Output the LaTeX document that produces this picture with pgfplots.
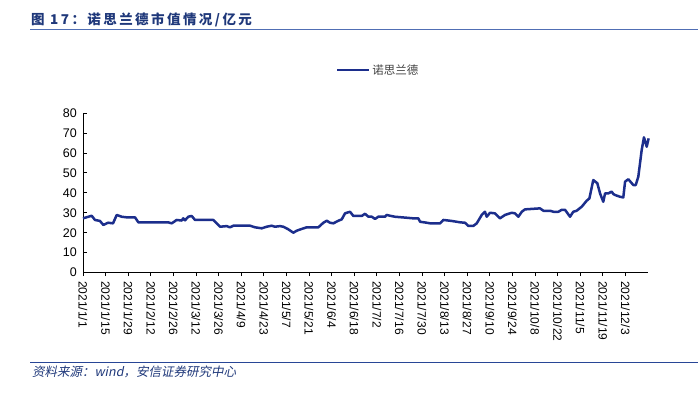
\documentclass[border=0pt]{standalone}
\usepackage{fontspec}
\usepackage{pgfplots}
\pgfplotsset{compat=1.18}
\setmainfont{Liberation Sans}
\newfontfamily\cjk{Noto Sans CJK SC}
\newfontfamily\cjkit[FakeSlant=0.2]{Noto Sans CJK SC}
\definecolor{navy}{RGB}{28,46,140}
\definecolor{ttl}{RGB}{31,56,122}
\definecolor{rule1}{RGB}{80,110,180}
\definecolor{rule2}{RGB}{40,70,150}
\begin{document}
\begin{tikzpicture}
\path[use as bounding box] (0,0) rectangle (698bp,-399bp);
\node[anchor=base west, inner sep=0, text=ttl, font=\cjk\bfseries\fontsize{13.5bp}{15bp}\selectfont] at (31bp,-24.5bp) {\addfontfeature{LetterSpace=18}图 17：诺思兰德市值情况/亿元};
\draw[rule1, line width=1.5bp] (30bp,-29.5bp) -- (698bp,-29.5bp);
\draw[rule2, line width=1.5bp] (30bp,-362.5bp) -- (698bp,-362.5bp);
\node[anchor=base west, inner sep=0, text=ttl, font=\cjkit\fontsize{12.5bp}{14bp}\selectfont] at (32bp,-376.5bp) {资料来源：wind，安信证券研究中心};
\begin{axis}[
  at={(83bp,-272.6bp)}, anchor=south west,
  scale only axis, width=565bp, height=159.6bp,
  xmin=0, xmax=350, ymin=0, ymax=80,
  axis x line*=bottom, axis y line*=left,
  axis line style={-, line width=0.8bp, black},
  xtick={0,14,...,336},
  xticklabels={2021/1/1,2021/1/15,2021/1/29,2021/2/12,2021/2/26,2021/3/12,2021/3/26,2021/4/9,2021/4/23,2021/5/7,2021/5/21,2021/6/4,2021/6/18,2021/7/2,2021/7/16,2021/7/30,2021/8/13,2021/8/27,2021/9/10,2021/9/24,2021/10/8,2021/10/22,2021/11/5,2021/11/19,2021/12/3},
  ytick={0,10,...,80},
  x tick style={black, line width=0.8bp},
  y tick style={black, line width=0.8bp},
  xtick align=outside, ytick align=inside,
  major tick length=3.5bp,
  xticklabel style={rotate=-90, anchor=west, font=\fontsize{12bp}{13bp}\selectfont, inner sep=0pt, xshift=5bp},
  yticklabel style={font=\fontsize{12.5bp}{14bp}\selectfont, inner sep=0pt, xshift=-6bp},
  /pgf/number format/assume math mode=true,
  legend style={at={(rel axis cs:0.447,1.269)}, anchor=west, draw=none, fill=none, font=\cjk\fontsize{11.5bp}{13bp}\selectfont, text=black!75, inner sep=0pt, legend cell align=left},
  legend image code/.code={\draw[#1, line width=2.5bp] (0bp,0bp) -- (32bp,0bp);},
  clip=false,
]
\addplot[navy, line width=2.5bp, line join=round] table {
x y
0 27.2
5.4 28.5
7.4 26.4
10.5 25.9
12.6 23.9
15.5 25
18.6 24.7
20.9 28.9
24 28
27.1 27.7
32.2 27.7
34.3 25.2
52.7 25.2
55 24.7
58 26.4
61.1 26.1
62.1 27.2
63.2 26.2
65.2 28
67.3 28.4
69.4 26.4
80.7 26.4
84.9 23
89 23.3
91.1 22.7
93.1 23.5
103.5 23.5
106.6 22.7
110.7 22.2
113.8 23
116.9 23.5
118.9 23
122 23.3
124.1 23
127.2 21.7
130.3 20
132.4 21
135.5 21.9
138.6 22.7
145.8 22.7
148.9 25
151 26
153 25
155.1 24.7
158.2 26
160.3 26.7
162.3 29.7
165.4 30.5
167.5 28.4
172.7 28.4
174.7 29.5
176.8 28
178.9 28
180.9 26.9
182.9 28
187.1 28
188.1 28.9
190.2 28.5
193.3 28
200.5 27.5
204.6 27.2
207.7 27.2
208.8 25.5
212.9 25
215 24.7
221.2 24.7
223.2 26.4
228.4 25.9
233.6 25.2
236.6 25
238.7 23.4
241.8 23.4
243.9 24.7
247 28.9
249 30.5
250.1 28
252.1 30
255.2 29.7
258.3 27.2
261.4 28.9
265.6 30
267.6 29.7
269.7 28
271.8 30.5
273.8 31.7
283.1 32.2
285.2 31
289.3 31
291.4 30.5
294.5 30.5
296.6 31.5
298.6 31.5
301.7 28
303.7 30.5
305.8 31
308.9 33
312 36
313.7 37.2
316.1 46.4
318.6 44.8
320.3 39.7
322.3 35.5
323.4 39.7
325.4 39.7
327.5 40.6
328.5 39.4
329.6 38.9
332.7 38
334.7 37.7
335.8 45.6
337.8 46.8
340.9 43.9
342.4 43.9
344 48.1
346.1 61.5
347.5 67.8
349.2 63.1
350.4 67.3
};
\addlegendentry{诺思兰德}
\end{axis}
\end{tikzpicture}
\end{document}
